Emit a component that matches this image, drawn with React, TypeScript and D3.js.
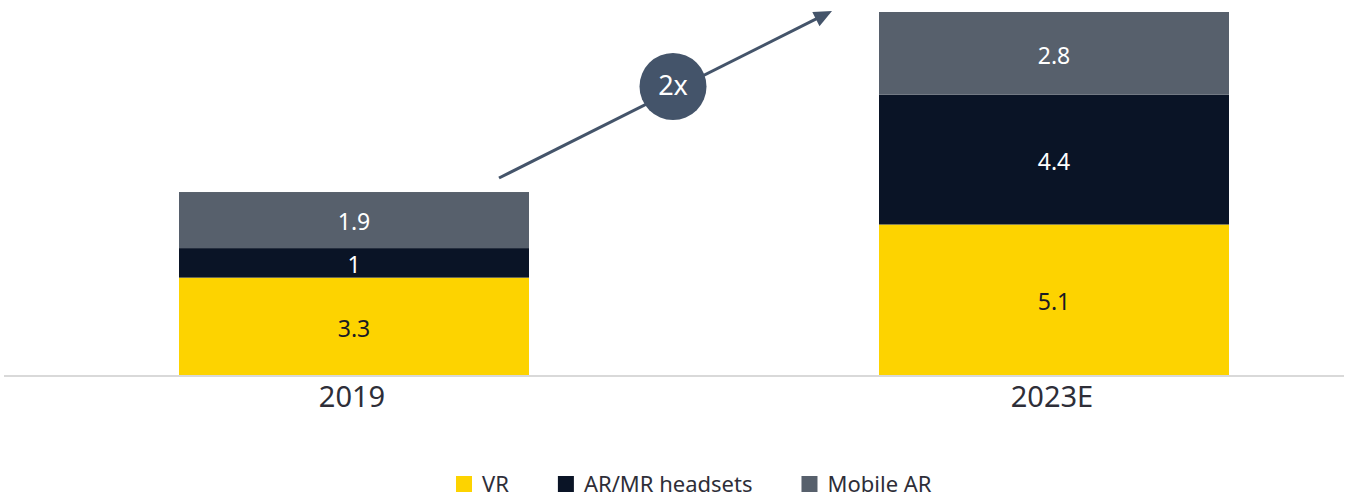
import React, { useEffect, useRef } from "react";
import * as d3 from "d3";

const categories = ["2019", "2023E"];
const seriesNames = ["VR", "AR/MR headsets", "Mobile AR"];
const vrValues = [3.3, 5.1];
const arMrValues = [1, 4.4];
const mobileArValues = [1.9, 2.8];
const seriesColors = ["#FDD300", "#0A1426", "#57606C"];
const labelColors = ["#1A1A24", "#FFFFFF", "#FFFFFF"];
const growthLabel = "2x";

const W = 1349;
const H = 497;
const FONT = "'Noto Sans', 'Open Sans', sans-serif";

export default function App() {
  const ref = useRef<SVGSVGElement | null>(null);

  useEffect(() => {
    const svg = d3.select(ref.current);
    svg.selectAll("*").remove();

    const series = [vrValues, arMrValues, mobileArValues];
    const rows = categories.map((c, i) => ({
      cat: c,
      vr: vrValues[i],
      ar: arMrValues[i],
      mob: mobileArValues[i],
    }));
    const keys = ["vr", "ar", "mob"];
    const stack = d3.stack<any>().keys(keys)(rows);

    const baseY = 375;
    const x = d3.scaleBand<string>().domain(categories).range([4, 1404]).paddingInner(0.5).paddingOuter(0.25);
    const y = d3.scaleLinear().domain([0, 12.3]).range([baseY, 12]);

    const g = svg.append("g");

    stack.forEach((layer, si) => {
      layer.forEach((d: any, i: number) => {
        const x0 = x(categories[i])!;
        g.append("rect")
          .attr("x", x0)
          .attr("y", y(d[1]))
          .attr("width", x.bandwidth())
          .attr("height", y(d[0]) - y(d[1]))
          .attr("fill", seriesColors[si]);
        g.append("text")
          .attr("x", x0 + x.bandwidth() / 2)
          .attr("y", (y(d[0]) + y(d[1])) / 2)
          .attr("dy", "0.45em")
          .attr("text-anchor", "middle")
          .attr("font-family", FONT)
          .attr("font-size", 23)
          .attr("fill", labelColors[si])
          .text(String(series[si][i]));
      });
    });

    // axis line
    g.append("line")
      .attr("x1", 4)
      .attr("x2", 1344)
      .attr("y1", baseY + 1)
      .attr("y2", baseY + 1)
      .attr("stroke", "#D9D9D9")
      .attr("stroke-width", 2);

    categories.forEach((c) => {
      g.append("text")
        .attr("x", x(c)! + x.bandwidth() / 2 - 2)
        .attr("y", 407)
        .attr("text-anchor", "middle")
        .attr("font-family", FONT)
        .attr("font-size", 29)
        .attr("fill", "#2E2E38")
        .text(c);
    });

    // growth arrow
    const sx = 499, sy = 178, ex = 832, ey = 11;
    const ang = Math.atan2(ey - sy, ex - sx);
    const ux = Math.cos(ang), uy = Math.sin(ang);
    const px = -uy, py = ux;
    const hl = 18, hw = 8;
    const bx = ex - ux * hl, by = ey - uy * hl;
    g.append("line")
      .attr("x1", sx).attr("y1", sy)
      .attr("x2", bx + ux * 2).attr("y2", by + uy * 2)
      .attr("stroke", "#44546A")
      .attr("stroke-width", 3);
    g.append("path")
      .attr("d", `M${ex},${ey}L${bx + px * hw},${by + py * hw}L${bx - px * hw},${by - py * hw}Z`)
      .attr("fill", "#44546A");
    g.append("circle")
      .attr("cx", 673)
      .attr("cy", 86.5)
      .attr("r", 33.5)
      .attr("fill", "#44546A");
    g.append("text")
      .attr("x", 673)
      .attr("y", 85)
      .attr("dy", "0.36em")
      .attr("text-anchor", "middle")
      .attr("font-family", FONT)
      .attr("font-size", 27)
      .attr("fill", "#FFFFFF")
      .text(growthLabel);

    // legend
    const lg = svg.append("g");
    let lx = 456;
    seriesNames.forEach((name, i) => {
      lg.append("rect")
        .attr("x", lx)
        .attr("y", 476)
        .attr("width", 16)
        .attr("height", 16)
        .attr("fill", seriesColors[i]);
      const t = lg.append("text")
        .attr("x", lx + 26)
        .attr("y", 492)
        .attr("font-family", FONT)
        .attr("font-size", 22)
        .attr("fill", "#2E2E38")
        .text(name);
      const w = (t.node() as SVGTextElement).getComputedTextLength();
      lx = lx + 26 + w + 49;
    });
  }, []);

  return (
    <svg
      ref={ref}
      width={W}
      height={H}
      style={{ position: "absolute", left: 0, top: 0, background: "#fff" }}
    />
  );
}
